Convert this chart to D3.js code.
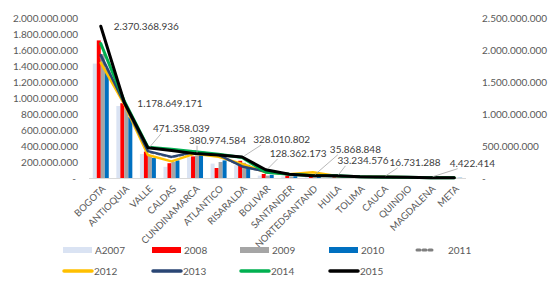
<!DOCTYPE html>
<html>
<head>
<meta charset="utf-8">
<script src="https://cdn.jsdelivr.net/npm/d3@7"></script>
<style>
  body { margin: 0; background: #fff; }
  svg text { font-family: Lato, "Open Sans", sans-serif; }
</style>
</head>
<body>
<svg id="chart" width="555" height="291"></svg>
<script>
// departamentos
const categories = ["BOGOTA", "ANTIOQUIA", "VALLE", "CALDAS", "CUNDINAMARCA", "ATLANTICO", "RISARALDA",
  "BOLIVAR", "SANTANDER", "NORTEDSANTAND", "HUILA", "TOLIMA", "CAUCA", "QUINDIO", "MAGDALENA", "META"];

// barras (eje izquierdo)
const a2007 = [1430e6, 900e6, 300e6, 140e6, 260e6, 180e6, 160e6, 30e6, 20e6, 10e6, 10e6, 8e6, 5e6, 5e6, 4e6, 3e6];
const s2008 = [1720e6, 935e6, 330e6, 185e6, 270e6, 125e6, 215e6, 50e6, 30e6, 12e6, 10e6, 8e6, 6e6, 5e6, 4e6, 3e6];
const s2009 = [1550e6, 870e6, 275e6, 200e6, 280e6, 200e6, 190e6, 30e6, 20e6, 10e6, 9e6, 7e6, 5e6, 4e6, 4e6, 3e6];
const s2010 = [1350e6, 760e6, 250e6, 220e6, 285e6, 220e6, 165e6, 40e6, 22e6, 12e6, 10e6, 8e6, 6e6, 5e6, 4e6, 3e6];

// lineas (eje derecho)
const s2011 = [1880e6, 1165e6, 410e6, 325e6, 400e6, 350e6, 185e6, 95e6, 58e6, 40e6, 30e6, 20e6, 12e6, 10e6, 6e6, 3e6];
const s2012 = [1800e6, 1150e6, 360e6, 260e6, 380e6, 330e6, 220e6, 90e6, 60e6, 90e6, 30e6, 20e6, 15e6, 10e6, 10e6, 5e6];
const s2013 = [1920e6, 1170e6, 420e6, 330e6, 410e6, 360e6, 180e6, 100e6, 60e6, 40e6, 30e6, 20e6, 12e6, 10e6, 6e6, 3e6];
const s2014 = [2100e6, 1200e6, 480e6, 450e6, 410e6, 370e6, 320e6, 90e6, 60e6, 40e6, 35e6, 20e6, 15e6, 10e6, 5e6, 3e6];
const s2015 = [2370368936, 1178649171, 471358039, 430e6, 380974584, 360e6, 328010802, 128362173, 60e6,
  35868848, 33234576, 20e6, 16731288, 10e6, 4422414, 2e6];

const leftTicks = [0, 2e8, 4e8, 6e8, 8e8, 1e9, 1.2e9, 1.4e9, 1.6e9, 1.8e9, 2e9];
const rightTicks = [0, 5e8, 1e9, 1.5e9, 2e9, 2.5e9];

// which 2015 points carry a label, and where the label sits relative to the point
const labelled = [
  { i: 0, dx: 13, dy: 4, leader: false },
  { i: 1, dx: 13, dy: 4, leader: false },
  { i: 2, dx: 5, dy: -16, leader: true },
  { i: 4, dx: -6, dy: -10, leader: true },
  { i: 6, dx: 11, dy: -14, leader: true },
  { i: 7, dx: 4, dy: -13, leader: true },
  { i: 9, dx: 17, dy: -23, leader: true },
  { i: 10, dx: 1, dy: -12, leader: true },
  { i: 12, dx: 6, dy: -11, leader: true },
  { i: 14, dx: 19, dy: -11, leader: true }
];

const barSeries = [
  { name: "A2007", values: a2007, color: "#dae3f3" },
  { name: "2008", values: s2008, color: "#ff0000" },
  { name: "2009", values: s2009, color: "#a5a5a5" },
  { name: "2010", values: s2010, color: "#0070c0" }
];
const lineSeries = [
  { name: "2011", values: s2011, color: "#7f7f7f", dash: "3,3", width: 2.2 },
  { name: "2012", values: s2012, color: "#ffc000", width: 2.5 },
  { name: "2013", values: s2013, color: "#2a4674", width: 2.5 },
  { name: "2014", values: s2014, color: "#00b050", width: 3 },
  { name: "2015", values: s2015, color: "#000000", width: 3 }
];

const svg = d3.select("#chart");
const plot = { left: 89, right: 466, top: 18, bottom: 178 };

const locale = d3.formatLocale({ decimal: ",", thousands: ".", grouping: [3], currency: ["", ""] });
const fmt = locale.format(",.0f");
const tickFmt = v => v === 0 ? "-" : fmt(v);

const x0 = d3.scaleBand().domain(categories).range([plot.left, plot.right]);
const x1 = d3.scaleBand().domain(barSeries.map(d => d.name))
  .range([0, x0.bandwidth()]).paddingOuter(0.95);
const yL = d3.scaleLinear().domain([0, 2e9]).range([plot.bottom, plot.top]);
const yR = d3.scaleLinear().domain([0, 2.5e9]).range([plot.bottom, plot.top]);

// axes
const leftAxis = svg.append("g")
  .attr("transform", `translate(${plot.left - 11},0)`)
  .call(d3.axisLeft(yL).tickValues(leftTicks).tickFormat(tickFmt).tickSize(0).tickPadding(0));
leftAxis.select(".domain").remove();
leftAxis.selectAll("text").attr("fill", "#595959").style("font-size", "10px")
  .attr("dx", d => d === 0 ? -2 : 0);

const rightAxis = svg.append("g")
  .attr("transform", `translate(${plot.right + 16},0)`)
  .call(d3.axisRight(yR).tickValues(rightTicks).tickFormat(tickFmt).tickSize(0).tickPadding(0));
rightAxis.select(".domain").remove();
rightAxis.selectAll("text").attr("fill", "#595959").style("font-size", "10px");

// bars
const groups = svg.append("g").selectAll("g")
  .data(barSeries).join("g")
  .attr("fill", d => d.color);
groups.selectAll("rect")
  .data(s => s.values.map((v, i) => ({ s: s.name, cat: categories[i], v })))
  .join("rect")
  .attr("x", d => x0(d.cat) + x1(d.s))
  .attr("y", d => yL(d.v))
  .attr("width", x1.bandwidth())
  .attr("height", d => yL(0) - yL(d.v));

// baseline
svg.append("line")
  .attr("x1", plot.left).attr("x2", plot.right)
  .attr("y1", yL(0) + 0.5).attr("y2", yL(0) + 0.5)
  .attr("stroke", "#d9d9d9").attr("stroke-width", 1);

// lines
const cx = c => x0(c) + x0.bandwidth() / 2;
const line = d3.line().x((v, i) => cx(categories[i])).y(v => yR(v));
svg.append("g").selectAll("path")
  .data(lineSeries).join("path")
  .attr("d", d => line(d.values))
  .attr("fill", "none")
  .attr("stroke", d => d.color)
  .attr("stroke-width", d => d.width)
  .attr("stroke-dasharray", d => d.dash || null)
  .attr("stroke-linejoin", "round")
  .attr("stroke-linecap", "round");

// data labels 2015
const lab = svg.append("g");
labelled.forEach(l => {
  const px = cx(categories[l.i]), py = yR(s2015[l.i]);
  const tx = px + l.dx, ty = py + l.dy;
  if (l.leader) {
    lab.append("line")
      .attr("x1", px + 2).attr("y1", py - 1)
      .attr("x2", tx + 8).attr("y2", ty + 2)
      .attr("stroke", "#a6a6a6").attr("stroke-width", 0.8);
  }
  lab.append("text")
    .attr("x", tx).attr("y", ty)
    .attr("fill", "#404040")
    .style("font-size", "10px")
    .text(fmt(s2015[l.i]));
});

// category labels
svg.append("g").selectAll("text")
  .data(categories).join("text")
  .attr("transform", d => `translate(${cx(d) + 3},${plot.bottom + 9}) rotate(-45)`)
  .attr("text-anchor", "end")
  .attr("dy", "0.35em")
  .attr("fill", "#595959")
  .style("font-size", "9.5px")
  .text(d => d);

// legend
const legendItems = [
  ...barSeries.map(d => ({ ...d, type: "bar" })),
  ...lineSeries.map(d => ({ ...d, type: "line" }))
];
const colX = [63, 152, 240, 329, 415];
const leg = svg.append("g").selectAll("g")
  .data(legendItems).join("g")
  .attr("transform", (d, i) => `translate(${colX[i % 5]},${i < 5 ? 250 : 271})`);
leg.each(function (d) {
  const g = d3.select(this);
  if (d.type === "bar") {
    g.append("rect").attr("x", 0).attr("y", -3).attr("width", 29).attr("height", 6).attr("fill", d.color);
    g.append("text").attr("x", 32).attr("y", 0).attr("dy", "0.35em");
  } else if (d.dash) {
    g.append("line").attr("x1", 2).attr("x2", 20).attr("y1", 0).attr("y2", 0)
      .attr("stroke", d.color).attr("stroke-width", 3).attr("stroke-dasharray", "3,3")
      .attr("stroke-linecap", "round");
    g.append("text").attr("x", 33).attr("y", 0).attr("dy", "0.35em");
  } else {
    g.append("line").attr("x1", 1).attr("x2", 29).attr("y1", 0).attr("y2", 0)
      .attr("stroke", d.color).attr("stroke-width", 3.5).attr("stroke-linecap", "round");
    g.append("text").attr("x", 31).attr("y", 0).attr("dy", "0.35em");
  }
  g.select("text").attr("fill", "#595959").style("font-size", "10px").text(d.name);
});
</script>
</body>
</html>
